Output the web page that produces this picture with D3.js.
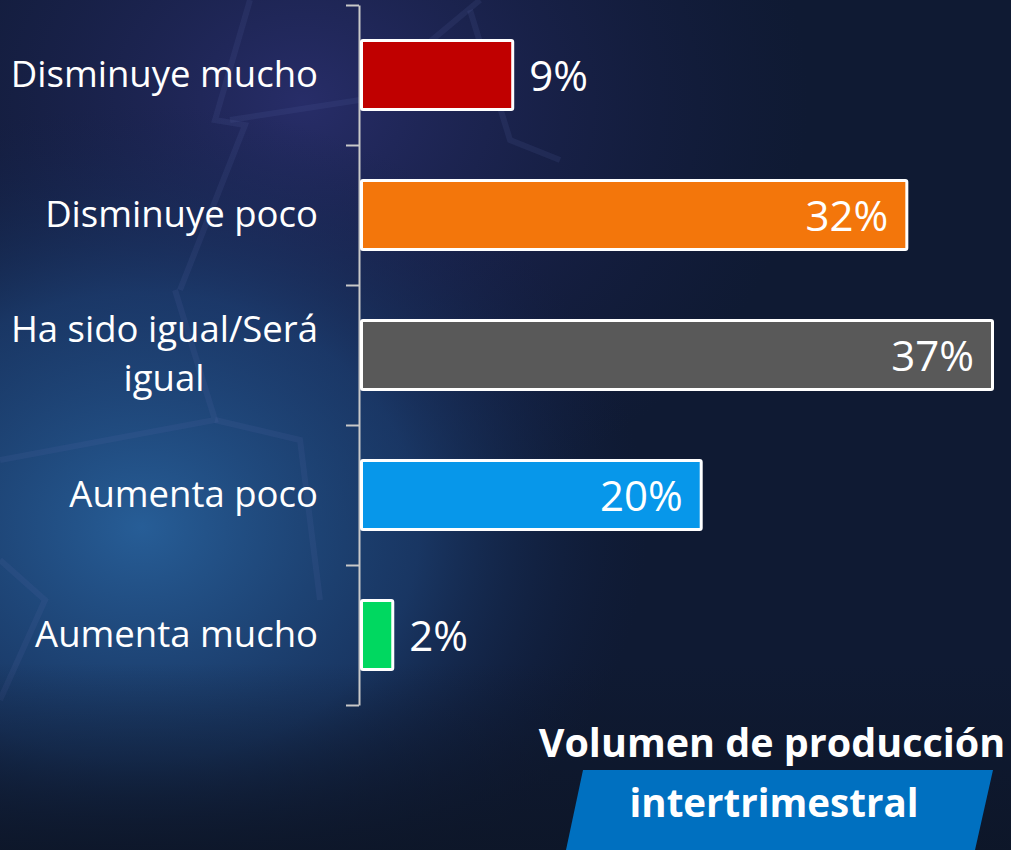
<!DOCTYPE html>
<html>
<head>
<meta charset="utf-8">
<script src="https://cdn.jsdelivr.net/npm/d3@7"></script>
<style>
  html, body { margin: 0; padding: 0; background: #0f1a33; }
  svg { display: block; }
</style>
</head>
<body>
<script>
// Chart data
const categories = ["Disminuye mucho", "Disminuye poco", "Ha sido igual/Será igual", "Aumenta poco", "Aumenta mucho"];
const values = [9, 32, 37, 20, 2];
const barColors = ["#c00000", "#f3760b", "#595959", "#0797ea", "#00d860"];
const labelLines = [["Disminuye mucho"], ["Disminuye poco"], ["Ha sido igual/Será", "igual"], ["Aumenta poco"], ["Aumenta mucho"]];
const titleLines = ["Volumen de producción", "intertrimestral"];

const W = 1011, H = 850;
const axisX = 359;

const svg = d3.select("body").append("svg")
    .attr("width", W)
    .attr("height", H);

// background
const defs = svg.append("defs");
const g1 = defs.append("radialGradient").attr("id", "glowBlue")
    .attr("cx", 0.14).attr("cy", 0.62).attr("r", 0.5);
g1.append("stop").attr("offset", "0%").attr("stop-color", "#28619c").attr("stop-opacity", 0.95);
g1.append("stop").attr("offset", "55%").attr("stop-color", "#1d4277").attr("stop-opacity", 0.7);
g1.append("stop").attr("offset", "100%").attr("stop-color", "#13224a").attr("stop-opacity", 0);
const g2 = defs.append("radialGradient").attr("id", "glowPurple")
    .attr("cx", 0.3).attr("cy", 0.12).attr("r", 0.5);
g2.append("stop").attr("offset", "0%").attr("stop-color", "#2a2f6e").attr("stop-opacity", 0.9);
g2.append("stop").attr("offset", "100%").attr("stop-color", "#1a2150").attr("stop-opacity", 0);
const g3 = defs.append("linearGradient").attr("id", "bottomDark")
    .attr("x1", 0).attr("y1", 0).attr("x2", 0).attr("y2", 1);
g3.append("stop").attr("offset", "78%").attr("stop-color", "#0d1628").attr("stop-opacity", 0);
g3.append("stop").attr("offset", "100%").attr("stop-color", "#0d1628").attr("stop-opacity", 0.9);

svg.append("rect").attr("width", W).attr("height", H).attr("fill", "#0f1a33");
svg.append("rect").attr("width", W).attr("height", H).attr("fill", "url(#glowPurple)");
svg.append("rect").attr("width", W).attr("height", H).attr("fill", "url(#glowBlue)");

// faint ball seams
const seams = [
  [[250, 0], [215, 120], [245, 125], [180, 290]],
  [[230, 120], [360, 100], [480, 0]],
  [[175, 290], [215, 420], [0, 460]],
  [[215, 420], [300, 440], [320, 600]],
  [[0, 560], [45, 600], [0, 700]],
  [[470, 10], [510, 140], [560, 160]]
];
svg.append("g").selectAll("path").data(seams).join("path")
    .attr("d", d3.line())
    .attr("fill", "none")
    .attr("stroke", "#5d6aa8")
    .attr("stroke-opacity", 0.14)
    .attr("stroke-width", 6);
svg.append("rect").attr("width", W).attr("height", H).attr("fill", "url(#bottomDark)");

// scales
const y = d3.scaleBand()
    .domain(categories)
    .range([5, 705])
    .paddingInner(0.486)
    .paddingOuter(0.243);

const x = d3.scaleLinear()
    .domain([0, 37])
    .range([axisX + 1, 994]);

// axis with ticks at band boundaries
const yTicks = d3.scaleLinear().domain([0, categories.length]).range([5, 705]);
const axis = svg.append("g")
    .attr("transform", `translate(${axisX},0)`)
    .call(d3.axisLeft(yTicks)
        .tickValues(d3.range(categories.length + 1))
        .tickSize(13)
        .tickSizeOuter(0)
        .tickFormat(""));
axis.selectAll("path, line").attr("stroke", "#c9c9c9").attr("stroke-width", 2);

// bars
svg.selectAll(".bar")
  .data(values)
  .join("rect")
    .attr("class", "bar")
    .attr("x", x(0) + 1.5)
    .attr("y", (d, i) => y(categories[i]) + 1.5)
    .attr("width", d => x(d) - x(0) - 3)
    .attr("height", y.bandwidth() - 3)
    .attr("fill", (d, i) => barColors[i])
    .attr("stroke", "#ffffff")
    .attr("stroke-width", 3)
    .attr("rx", 1.5);

// value labels
svg.selectAll(".val")
  .data(values)
  .join("text")
    .attr("class", "val")
    .attr("x", d => d < 15 ? x(d) + 15 : x(d) - 20)
    .attr("y", (d, i) => y(categories[i]) + y.bandwidth() / 2 + 16)
    .attr("text-anchor", d => d < 15 ? "start" : "end")
    .attr("fill", "#ffffff")
    .style("font-family", "'Open Sans', sans-serif")
    .style("font-size", "42px")
    .text(d => d + "%");

// category labels
const cat = svg.selectAll(".cat")
  .data(labelLines)
  .join("text")
    .attr("class", "cat")
    .attr("fill", "#ffffff")
    .style("font-family", "'Open Sans', sans-serif")
    .style("font-size", "36.5px");
cat.each(function (lines, i) {
    const t = d3.select(this);
    const cy = y(categories[i]) + y.bandwidth() / 2;
    if (lines.length === 1) {
        t.append("tspan").attr("x", 318).attr("y", cy + 12)
            .attr("text-anchor", "end").text(lines[0]);
    } else {
        t.append("tspan").attr("x", 318).attr("y", cy - 13)
            .attr("text-anchor", "end").text(lines[0]);
        t.append("tspan").attr("x", 164).attr("y", cy + 36)
            .attr("text-anchor", "middle").text(lines[1]);
    }
});

// title block
svg.append("path")
    .attr("d", "M583,770 L993,770 L975,850 L566,850 Z")
    .attr("fill", "#0070c0");
svg.append("text")
    .attr("x", 772).attr("y", 757)
    .attr("text-anchor", "middle")
    .attr("fill", "#ffffff")
    .style("font-family", "'Open Sans', sans-serif")
    .style("font-weight", "bold")
    .style("font-size", "39.5px")
    .text(titleLines[0]);
svg.append("text")
    .attr("x", 774).attr("y", 817)
    .attr("text-anchor", "middle")
    .attr("fill", "#ffffff")
    .style("font-family", "'Open Sans', sans-serif")
    .style("font-weight", "bold")
    .style("font-size", "38.5px")
    .text(titleLines[1]);
</script>
</body>
</html>
